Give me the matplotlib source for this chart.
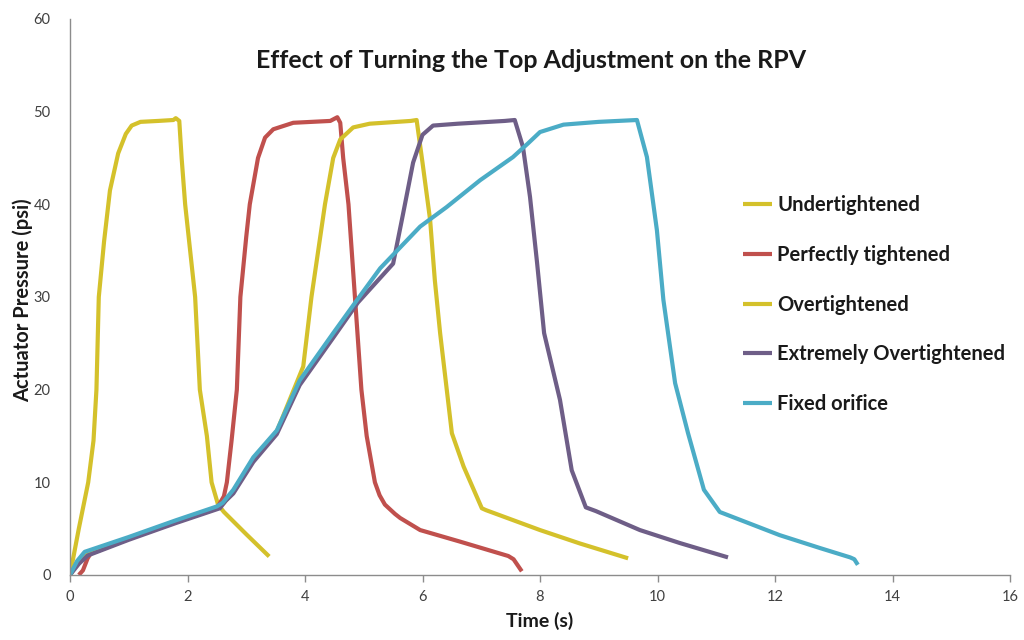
import matplotlib
matplotlib.use("Agg")
import matplotlib.pyplot as plt

# ---- data ----
under_t = [0.0, 0.15, 0.31, 0.40, 0.45, 0.49, 0.58, 0.68, 0.82, 0.95, 1.05, 1.20, 1.50, 1.76, 1.80, 1.86, 1.90, 1.96, 2.13, 2.21, 2.33, 2.41, 2.52, 2.62, 3.00, 3.39]
under_p = [0.0, 5.0, 10.0, 14.5, 20.0, 30.0, 36.0, 41.5, 45.5, 47.6, 48.5, 48.9, 49.0, 49.1, 49.3, 49.0, 45.0, 40.0, 30.0, 20.0, 15.0, 10.0, 7.6, 6.8, 4.4, 2.0]

perf_t = [0.15, 0.22, 0.30, 0.35, 1.00, 1.80, 2.50, 2.62, 2.67, 2.75, 2.84, 2.90, 3.00, 3.06, 3.20, 3.32, 3.46, 3.80, 4.43, 4.55, 4.60, 4.65, 4.74, 4.85, 4.96, 5.05, 5.19, 5.27, 5.36, 5.53, 5.62, 5.96, 6.64, 7.46, 7.55, 7.69]
perf_p = [0.0, 0.5, 1.8, 2.3, 3.9, 5.7, 7.2, 8.5, 10.0, 14.5, 20.0, 30.0, 36.5, 40.0, 45.0, 47.2, 48.1, 48.8, 49.0, 49.4, 48.8, 45.0, 40.0, 30.0, 20.0, 15.0, 10.0, 8.6, 7.6, 6.6, 6.15, 4.85, 3.6, 2.05, 1.7, 0.4]

over_t = [0.0, 0.15, 0.30, 1.00, 1.80, 2.50, 2.62, 2.78, 3.12, 3.52, 3.97, 4.11, 4.34, 4.48, 4.60, 4.82, 5.10, 5.80, 5.90, 6.00, 6.13, 6.21, 6.30, 6.50, 6.70, 7.01, 7.08, 8.00, 8.68, 9.50]
over_p = [0.0, 1.5, 2.2, 3.9, 5.7, 7.2, 7.8, 9.0, 12.5, 15.5, 22.5, 30.0, 40.0, 45.0, 47.0, 48.3, 48.7, 49.0, 49.1, 44.5, 38.3, 31.8, 26.1, 15.3, 11.7, 7.2, 7.0, 4.85, 3.4, 1.8]

ext_t = [0.0, 0.15, 0.30, 1.00, 1.80, 2.55, 2.65, 2.78, 3.12, 3.52, 3.91, 4.48, 4.90, 5.50, 5.67, 5.84, 6.00, 6.18, 6.60, 7.40, 7.57, 7.71, 7.83, 7.95, 8.07, 8.34, 8.54, 8.78, 8.95, 9.70, 10.38, 11.20]
ext_p = [0.0, 1.2, 2.1, 3.8, 5.6, 7.2, 8.0, 8.8, 12.2, 15.2, 20.5, 25.6, 29.4, 33.6, 39.0, 44.5, 47.5, 48.5, 48.7, 49.0, 49.1, 46.2, 40.8, 33.7, 26.1, 18.9, 11.3, 7.3, 6.9, 4.85, 3.45, 1.9]

fixed_t = [0.0, 0.12, 0.25, 1.00, 1.80, 2.50, 2.60, 2.78, 3.12, 3.52, 3.91, 4.48, 4.90, 5.28, 5.96, 6.41, 6.98, 7.54, 7.80, 8.00, 8.40, 9.00, 9.65, 9.82, 9.99, 10.10, 10.30, 10.52, 10.79, 11.06, 12.08, 12.77, 13.28, 13.35, 13.41]
fixed_p = [0.0, 1.5, 2.5, 4.1, 5.9, 7.4, 7.8, 9.2, 12.7, 15.6, 21.0, 26.1, 29.8, 33.1, 37.6, 39.7, 42.6, 45.1, 46.6, 47.8, 48.6, 48.9, 49.1, 45.1, 37.2, 29.7, 20.7, 15.3, 9.2, 6.8, 4.3, 2.9, 1.9, 1.7, 1.1]

labels = ["Undertightened", "Perfectly tightened", "Overtightened", "Extremely Overtightened", "Fixed orifice"]
colors = ["#D4C12B", "#C0504D", "#D4C12B", "#6E5E87", "#4BACC6"]

x_ticks = [0, 2, 4, 6, 8, 10, 12, 14, 16]
y_ticks = [0, 10, 20, 30, 40, 50, 60]

title = "Effect of Turning the Top Adjustment on the RPV"
xlabel = "Time (s)"
ylabel = "Actuator Pressure (psi)"

plt.rcParams['font.family'] = ['Lato', 'DejaVu Sans']

fig = plt.figure(figsize=(10.24, 6.40), dpi=100)
ax = fig.add_axes([70/1024, 1-575/640, 940/1024, 556/640])

series = [(under_t, under_p), (perf_t, perf_p), (over_t, over_p), (ext_t, ext_p), (fixed_t, fixed_p)]
for (t, p), lab, col in zip(series, labels, colors):
    ax.plot(t, p, color=col, lw=3.0, label=lab, solid_joinstyle='round', solid_capstyle='butt')

ax.set_xlim(0, 16)
ax.set_ylim(0, 60)
ax.set_xticks(x_ticks)
ax.set_yticks(y_ticks)
ax.tick_params(axis='x', direction='out', length=5, width=1, color='#8C8C8C', labelsize=10.5, labelcolor='#404040', pad=6)
ax.tick_params(axis='y', length=0, labelsize=10.5, labelcolor='#404040', pad=14)
for s in ['top', 'right']:
    ax.spines[s].set_visible(False)
for s in ['left', 'bottom']:
    ax.spines[s].set_color('#8C8C8C')
    ax.spines[s].set_linewidth(1.0)

fig.text(531/1024, 1-60/640, title, ha='center', va='center', fontsize=18, fontweight='bold', color='#1a1a1a')
fig.text(540/1024, 1-621/640, xlabel, ha='center', va='center', fontsize=14, fontweight='bold', color='#1a1a1a')
fig.text(23/1024, 1-300/640, ylabel, ha='center', va='center', rotation=90, fontsize=14.5, fontweight='bold', color='#1a1a1a')

leg = ax.legend(loc='upper left', bbox_to_anchor=(743/1024, 1-195/640), bbox_transform=fig.transFigure,
                frameon=False, fontsize=14.5, handlelength=1.45, handletextpad=0.25, labelspacing=1.48,
                borderaxespad=0, borderpad=0)
for txt in leg.get_texts():
    txt.set_fontweight('bold')
    txt.set_color('#1a1a1a')

fig.savefig("out.png", dpi=100, facecolor='white')
